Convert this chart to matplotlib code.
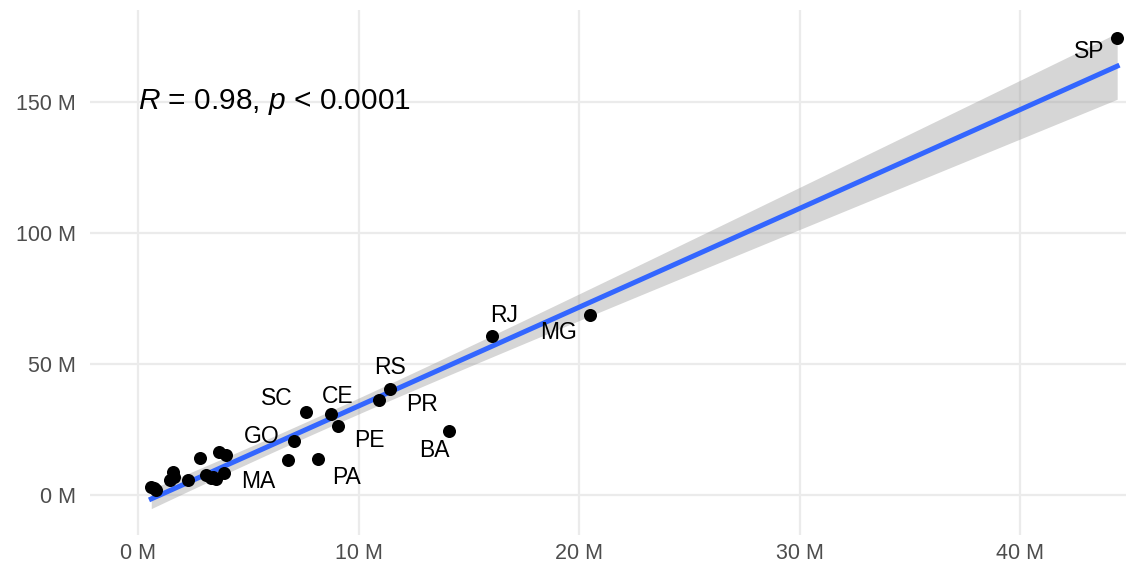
import numpy as np
import matplotlib
matplotlib.use("Agg")
import matplotlib.pyplot as plt

plt.rcParams['font.family'] = ['Liberation Sans', 'DejaVu Sans']
plt.rcParams['mathtext.fontset'] = 'custom'
plt.rcParams['mathtext.rm'] = 'Liberation Sans'
plt.rcParams['mathtext.it'] = 'Liberation Sans:italic'

# population (millions) vs value (millions), by state
states = ["SP", "MG", "RJ", "RS", "PR", "BA", "CE", "PE", "SC", "GO", "PA", "MA",
          "", "", "", "", "", "", "", "", "", "", "", "", "", "", ""]
pop = [44.4, 20.5, 16.05, 11.4, 10.9, 14.1, 8.74, 9.04, 7.62, 7.04, 8.13, 6.77,
       0.58, 0.80, 1.56, 1.41, 2.24, 2.77, 3.30, 3.07, 3.67, 3.98, 3.90, 1.63,
       3.40, 0.70, 3.50]
value = [174.4, 68.7, 60.7, 40.5, 36.3, 24.5, 30.9, 26.3, 31.6, 20.6, 13.6, 13.4,
         3.2, 1.9, 8.7, 5.7, 5.7, 14.2, 6.6, 7.6, 16.5, 15.3, 8.3, 7.0,
         7.0, 2.5, 6.2]

# label positions (ggrepel placement)
label_x = [43.13, 19.05, 16.6, 11.43, 12.88, 13.43, 9.02, 10.48, 6.26, 5.58, 9.43, 5.44]
label_y = [169.1, 61.8, 68.3, 48.5, 34.4, 16.8, 37.4, 20.6, 36.6, 22.1, 6.5, 5.0]

x = np.array(pop)
y = np.array(value)

# linear fit with 95% confidence band
n = len(x)
slope, intercept = np.polyfit(x, y, 1)
resid = y - (slope * x + intercept)
s = np.sqrt(np.sum(resid ** 2) / (n - 2))
sxx = np.sum((x - x.mean()) ** 2)
t_crit = 2.060  # t(0.975, df=25)
xs = np.linspace(x.min(), x.max(), 200)
ys = slope * xs + intercept
se = s * np.sqrt(1.0 / n + (xs - x.mean()) ** 2 / sxx)

fig = plt.figure(figsize=(11.26, 5.67), dpi=100)
ax = fig.add_axes([90 / 1126, 32 / 567, 1 - 90 / 1126, (535 - 10) / 567])

ax.fill_between(xs, ys - t_crit * se, ys + t_crit * se, color="#999999", alpha=0.4, lw=0, zorder=2)
ax.plot(xs, ys, color="#3366FF", lw=3.6, zorder=3)
ax.scatter(x, y, s=88, color="black", zorder=4, lw=0)

for name, lx, ly in zip(states, label_x, label_y):
    ax.text(lx, ly, name, fontsize=16.5, ha="center", va="center", color="black", zorder=5)

ax.text(0.0, 150, r"$R$ = 0.98, $p$ < 0.0001", fontsize=21.5, ha="left", va="center", color="black")

ax.set_xlim(-2.2, 44.8)
ax.set_ylim(-15.3, 185)
ax.set_xticks([0, 10, 20, 30, 40])
ax.set_xticklabels(["0 M", "10 M", "20 M", "30 M", "40 M"])
ax.set_yticks([0, 50, 100, 150])
ax.set_yticklabels(["0 M", "50 M", "100 M", "150 M"])

ax.grid(True, color="#EBEBEB", lw=1.6, zorder=0)
ax.set_axisbelow(True)
for sp in ax.spines.values():
    sp.set_visible(False)
ax.tick_params(length=0, labelsize=15.5, labelcolor="#4D4D4D")
ax.tick_params(axis="y", pad=10)
ax.tick_params(axis="x", pad=6)

fig.savefig("out.png", dpi=100)
